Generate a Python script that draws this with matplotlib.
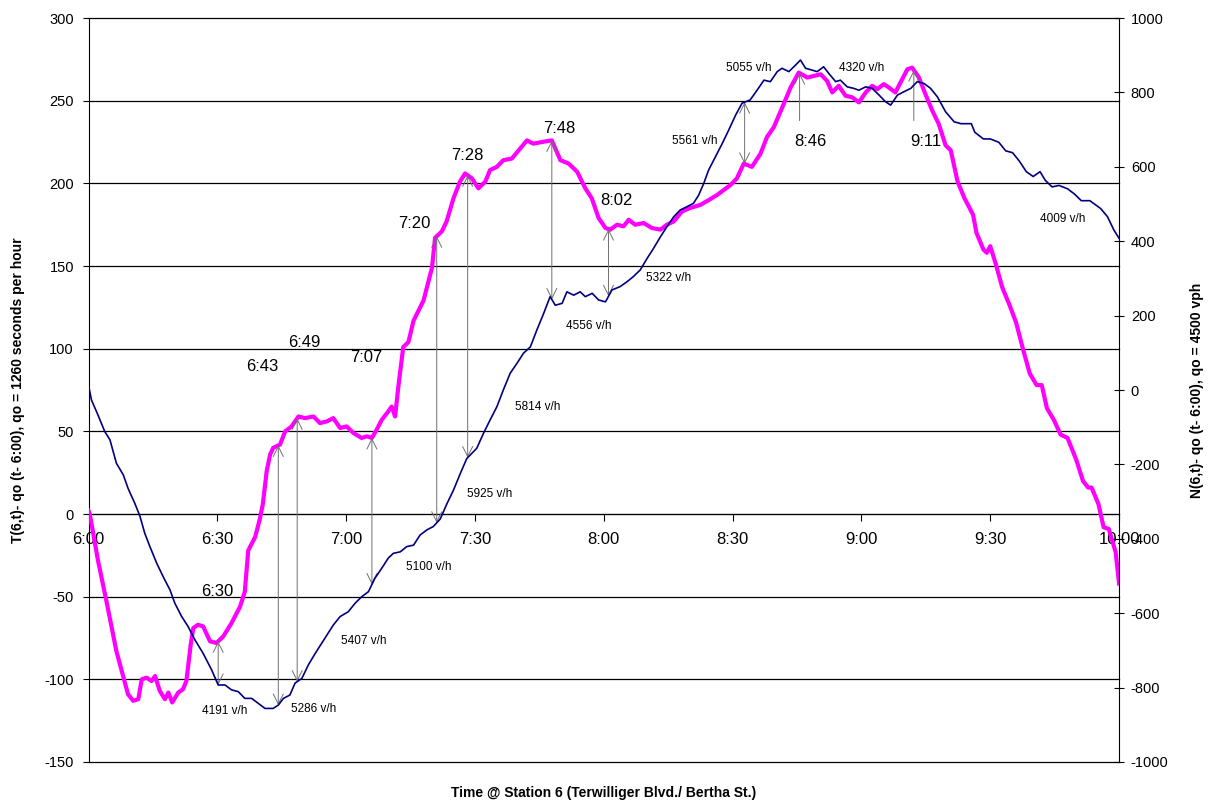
import numpy as np
import matplotlib
matplotlib.use("Agg")
import matplotlib.pyplot as plt

plt.rcParams['font.family'] = ['Liberation Sans', 'DejaVu Sans']
plt.rcParams['axes.unicode_minus'] = False

# minutes after 6:00 and T(6,t) - qo(t - 6:00), seconds (left axis)
pink_t = [0, 0.3, 2.2, 4.2, 6.5, 9.2, 10.4, 11.6, 12.4, 13.5, 14.7, 15.5, 16.6, 17.8, 18.6,
          19.5, 20.9, 22.0, 22.8, 23.8, 24.4, 25.5, 26.7, 28.3, 29.8, 31.4, 33.3, 35.3, 36.4,
          37.2, 38.8, 39.9, 40.6, 41.5, 42.3, 43.0, 44.6, 45.8, 47.3, 48.9, 50.4, 52.4, 53.9,
          55.5, 57.0, 58.6, 60.1, 61.7, 63.6, 64.8, 66.0, 67.1, 68.3, 69.8, 70.6, 71.4, 72.2,
          73.3, 74.5, 75.7, 78.0, 80.0, 80.7, 82.3, 83.4, 85.0, 86.5, 87.7, 89.3, 90.8, 92.4,
          93.5, 95.1, 96.6, 98.6, 100.5, 102.1, 103.6, 105.6, 107.9, 109.9, 111.8, 113.8,
          115.7, 117.2, 118.8, 120.4, 121.5, 123.1, 124.6, 125.8, 127.3, 129.3, 131.2, 133.2,
          134.7, 136.3, 138.2, 140.0, 142.5, 144.5, 146.4, 149.5, 151.0, 152.6, 154.5, 156.5,
          158.0, 159.6, 161.9, 163.5, 165.4, 167.4, 168.9, 170.5, 172.0, 173.2, 174.7, 176.3,
          177.9, 179.4, 181.0, 182.5, 183.7, 185.2, 186.4, 187.9, 189.5, 190.7, 191.8, 193.4,
          194.9, 196.5, 198.0, 199.6, 200.8, 202.4, 204.0, 206.0, 206.8, 208.4, 209.2, 210.0,
          211.2, 212.8, 214.4, 216.0, 217.6, 219.2, 220.8, 222.0, 223.2, 224.8, 226.4, 228.0,
          230.0, 231.6, 232.8, 233.6, 235.2, 236.4, 237.6, 239.2, 240.0]
pink_v = [2, 0, -28, -53, -83, -109, -113, -112, -100, -99, -101, -98, -107, -112, -108,
          -114, -108, -106, -101, -79, -69, -67, -68, -77, -78, -74, -66, -56, -47,
          -22, -14, -3, 6, 26, 36, 40, 42, 50, 53, 59, 58, 59, 55,
          56, 58, 52, 53, 49, 46, 47, 46, 51, 57, 62, 65, 59, 78,
          101, 104, 117, 129, 149, 167, 171, 177, 191, 201, 206, 203, 197, 201,
          208, 210, 214, 215, 221, 226, 224, 225, 226, 214, 212, 207,
          197, 191, 179, 173, 172, 175, 174, 178, 175, 176, 173, 172,
          175, 177, 183, 185, 187, 190, 193, 199, 203, 212, 210, 218,
          228, 234, 248, 258, 267, 264, 265, 266, 262, 255, 259, 253,
          252, 249, 255, 259, 257, 260, 258, 255, 263, 269, 270, 264,
          254, 244, 236, 223, 220, 201, 191, 181, 170, 160, 158, 162,
          152, 137, 127, 116, 100, 85, 78, 78, 64, 57, 48, 46,
          33, 20, 16, 16, 6, -8, -9, -23, -42]

# minutes after 6:00 and N(6,t) - qo(t - 6:00), vehicles (right axis)
blue_t = [0, 0.7, 2.2, 3.8, 5.0, 6.5, 8.1, 9.2, 10.8, 12.0, 13.1, 14.3, 15.9, 17.4, 19.0,
          20.1, 21.7, 23.2, 24.8, 26.7, 28.7, 30.2, 31.8, 33.3, 34.9, 36.4, 38.0, 39.5, 41.1,
          43.0, 44.2, 45.4, 46.9, 48.1, 49.7, 51.2, 52.8, 54.3, 55.5, 57.0, 58.6, 60.5, 62.1,
          63.6, 65.2, 66.7, 68.3, 69.8, 71.0, 72.6, 74.1, 75.7, 77.2, 78.8, 80.3, 81.9, 83.5,
          85.0, 86.6, 88.1, 90.4, 92.0, 93.5, 95.1, 96.6, 98.2, 99.8, 101.3, 102.9, 104.4,
          106.0, 107.5, 108.7, 110.3, 111.4, 113.0, 114.5, 115.7, 117.3, 118.8, 120.4, 121.9,
          123.8, 125.4, 126.9, 128.5, 130.1, 131.6, 133.2, 134.7, 136.3, 137.8, 139.4, 140.9,
          142.1, 143.3, 144.4, 146.0, 147.6, 149.1, 150.7, 152.2, 154.1, 155.7, 157.3, 158.8,
          160.4, 161.5, 163.1, 164.7, 165.8, 167.0, 168.5, 169.7, 171.2, 172.4, 174.0, 175.1,
          176.7, 178.2, 179.4, 181.0, 182.5, 184.1, 185.6, 186.8, 188.4, 189.9, 191.5, 193.0,
          194.6, 196.1, 197.7, 199.6, 201.6, 203.2, 205.6, 206.4, 208.4, 210.0, 212.0, 213.6,
          215.2, 216.8, 218.4, 220.0, 221.6, 222.8, 224.4, 226.0, 228.0, 229.6, 231.2, 233.2,
          235.7, 237.3, 238.8, 240.0]
blue_v = [13, -27, -67, -112, -134, -197, -228, -264, -305, -340, -385, -421, -466, -502, -538,
          -573, -609, -636, -672, -708, -753, -793, -793, -806, -811, -829, -829, -842, -856,
          -856, -847, -829, -820, -788, -775, -739, -708, -681, -659, -632, -609, -596, -573,
          -556, -542, -506, -479, -452, -439, -435, -421, -417, -390, -376, -367, -347, -305,
          -269, -224, -184, -157, -116, -81, -45, 0, 45, 72, 99, 116, 161,
          206, 251, 228, 233, 264, 255, 264, 251, 260, 242, 237, 269,
          278, 291, 305, 323, 354, 381, 412, 439, 466, 484, 493, 502,
          524, 556, 591, 627, 663, 699, 739, 771, 780, 806, 833, 829,
          856, 865, 856, 874, 887, 865, 860, 856, 869, 851, 829, 833,
          815, 811, 806, 815, 811, 793, 775, 766, 793, 802, 811, 829,
          824, 811, 788, 748, 721, 716, 716, 693, 675, 675, 666, 643,
          638, 615, 587, 574, 587, 564, 546, 550, 541, 527, 509, 509,
          488, 466, 430, 408]

x_ticks = [0, 30, 60, 90, 120, 150, 180, 210, 240]
x_labels = ['6:00', '6:30', '7:00', '7:30', '8:00', '8:30', '9:00', '9:30', '10:00']

# times (min) where pink and blue are linked by a double arrow
link_t = [30.2, 44.2, 48.6, 66.0, 81.1, 88.3, 107.9, 121.1, 152.8]
# times of single arrows pointing at the pink peaks
peak_t = [165.6, 192.2]

time_text = ['6:30', '6:43', '6:49', '7:07', '7:20', '7:28', '7:48', '8:02', '8:46', '9:11']
time_pos = [(30, -47), (40.4, 89), (50.2, 103.5), (64.6, 94.5), (75.8, 176), (88.2, 217),
            (109.6, 233), (122.9, 189.5), (168.1, 225.5), (194.9, 225.5)]

rate_text = ['4191 v/h', '5286 v/h', '5407 v/h', '5100 v/h', '5925 v/h', '5814 v/h',
             '4556 v/h', '5322 v/h', '5561 v/h', '5055 v/h', '4320 v/h', '4009 v/h']
rate_pos = [(31.8, -119), (52.5, -118), (64.2, -77), (79.3, -32), (93.5, 12), (104.7, 65),
            (116.6, 114), (135.0, 143), (141.3, 225.5), (153.7, 270), (180.0, 270), (226.9, 178.5)]

fig = plt.figure(figsize=(12.14, 8.09), dpi=100)
ax = fig.add_axes([0.0729, 0.0581, 0.8489, 0.9196])
ax2 = ax.twinx()

ax.plot(pink_t, pink_v, color='#FF00FF', lw=3, solid_joinstyle='round', zorder=3)
ax2.plot(blue_t, blue_v, color='#000080', lw=1.2)

ax.set_xlim(0, 240)
ax.set_ylim(-150, 300)
ax2.set_ylim(-1000, 1000)

ax.set_xticks(x_ticks)
ax.set_xticklabels(x_labels)
ax.set_yticks(np.arange(-150, 301, 50))
ax2.set_yticks(np.arange(-1000, 1001, 200))

ax.spines['bottom'].set_position(('data', 0))
ax.spines['top'].set_visible(False)
ax.spines['right'].set_visible(False)
for s in ['top', 'bottom', 'left']:
    ax2.spines[s].set_visible(False)

ax.grid(axis='y', color='black', lw=0.9)
for gl in ax.get_ygridlines():
    gl.set_clip_on(False)
ax.tick_params(axis='x', direction='out', length=5, pad=8, labelsize=12)
ax.tick_params(axis='y', direction='out', length=4.5, pad=6, labelsize=10.5)
ax2.tick_params(axis='y', direction='inout', length=7, pad=5, labelsize=10.5)

# arrows linking the two curves
for t in link_t:
    p = np.interp(t, pink_t, pink_v)
    b = np.interp(t, blue_t, blue_v)
    ax.annotate('', xy=(t, b), xycoords=ax2.transData, xytext=(t, p), textcoords=ax.transData,
                arrowprops=dict(arrowstyle='<->', color='#707070', lw=0.7,
                                mutation_scale=18, shrinkA=0, shrinkB=0))
for t in peak_t:
    p = np.interp(t, pink_t, pink_v)
    ax.annotate('', xy=(t, p), xytext=(t, 238),
                arrowprops=dict(arrowstyle='->', color='#707070', lw=0.7,
                                mutation_scale=18, shrinkA=0, shrinkB=0))

for txt, (tx, ty) in zip(time_text, time_pos):
    ax.text(tx, ty, txt, fontsize=12, ha='center', va='center', zorder=5)
for txt, (tx, ty) in zip(rate_text, rate_pos):
    ax.text(tx, ty, txt, fontsize=8.5, ha='center', va='center', zorder=5)

fig.text(0.4973, 0.0198, 'Time @ Station 6 (Terwilliger Blvd./ Bertha St.)',
         fontsize=10, fontweight='bold', ha='center', va='center')
fig.text(0.0148, 0.518, 'T(6,t)- qo (t- 6:00), qo = 1260 seconds per hour',
         fontsize=10, fontweight='bold', rotation=90, ha='center', va='center')
fig.text(0.986, 0.518, 'N(6,t)- qo (t- 6:00), qo = 4500 vph',
         fontsize=10, fontweight='bold', rotation=90, ha='center', va='center')

fig.savefig('out.png', dpi=100)
